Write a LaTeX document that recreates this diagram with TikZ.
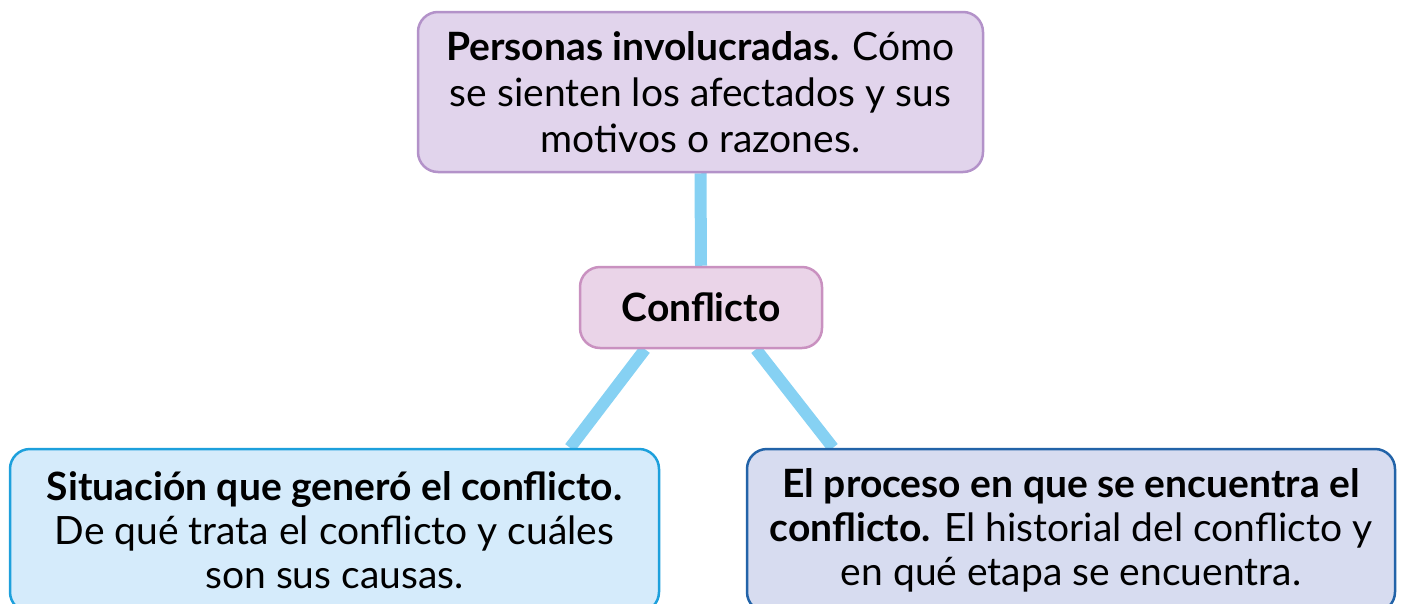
\documentclass[tikz,border=0pt]{standalone}
\usepackage{fontspec}
\setmainfont{Lato}
\usetikzlibrary{calc,backgrounds}
\definecolor{topfill}{HTML}{E1D4EC}
\definecolor{topdraw}{HTML}{B392C9}
\definecolor{conffill}{HTML}{EAD4E8}
\definecolor{confdraw}{HTML}{C991C0}
\definecolor{leftfill}{HTML}{D5EBFB}
\definecolor{leftdraw}{HTML}{1DA0DC}
\definecolor{rightfill}{HTML}{D7DCF0}
\definecolor{rightdraw}{HTML}{2263A8}
\definecolor{linkcol}{HTML}{86D1F3}
\tikzset{
  box/.style={rounded corners=20pt, line width=2.5pt, inner sep=0pt, align=center},
  topfont/.style={font=\fontsize{39}{46}\selectfont},
  botfont/.style={font=\fontsize{39}{44}\selectfont},
  link/.style={line width=12pt, draw=linkcol},
}
\begin{document}
\begin{tikzpicture}[x=1pt,y=-1pt]
\useasboundingbox (0,0) rectangle (1401,603);
\clip (0,0) rectangle (1401,603);
\node[box, topfont, fill=topfill, draw=topdraw, minimum width=565pt, minimum height=160pt] (top) at (700.5,92)
  {\textbf{Personas involucradas.} Cómo\\se sienten los afectados y sus\\motivos o razones.};
\node[box, topfont, fill=conffill, draw=confdraw, minimum width=242pt, minimum height=81pt] (conf) at (701,307.5)
  {\textbf{Conflicto}};
\node[box, botfont, fill=leftfill, draw=leftdraw, minimum width=649pt, minimum height=163pt] (left) at (334.5,530.5)
  {\textbf{Situación que generó el conflicto.}\\De qué trata el conflicto y cuáles\\son sus causas.};
\node[box, botfont, fill=rightfill, draw=rightdraw, minimum width=648pt, minimum height=163pt] (right) at (1071,530.5)
  {\textbf{El proceso en que se encuentra el}\\\textbf{conflicto.} El historial del conflicto y\\en qué etapa se encuentra.};
\begin{scope}[on background layer]
\draw[link] (top.south) -- (conf.north);
\draw[link] ($(conf.south)+(-56,0)$) -- ($(left.north)+(235.5,0)$);
\draw[link] ($(conf.south)+(55,0)$) -- ($(right.north)+(-238,0)$);
\end{scope}
\end{tikzpicture}
\end{document}
